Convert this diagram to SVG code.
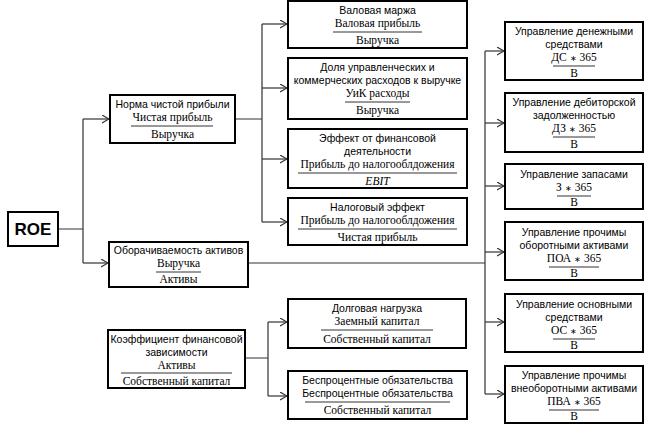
<svg xmlns="http://www.w3.org/2000/svg" width="650" height="425" viewBox="0 0 650 425">
<style>
.box{fill:#fff;stroke:#000;stroke-width:2}
.t{font-family:"Liberation Sans",Arial,sans-serif;font-size:10.5px;text-anchor:middle;fill:#000}
.f{font-family:"Liberation Serif","Times New Roman",serif;font-size:11.5px;text-anchor:middle;fill:#000}
.s{font-size:8px}
.roe{font-family:"Liberation Sans",Arial,sans-serif;font-size:17px;font-weight:bold;text-anchor:middle;fill:#000}
.fl{stroke:#333;stroke-width:1}
.c{stroke:#333;stroke-width:1.2;fill:none}
.a{marker-end:url(#arr)}
</style>
<defs>
<marker id="arr" markerUnits="userSpaceOnUse" markerWidth="8" markerHeight="10" refX="7" refY="4" orient="auto">
<path d="M0,0 L7,4 L0,8" fill="none" stroke="#333" stroke-width="1.2"/>
</marker>
</defs>
<rect width="650" height="425" fill="#fff"/>
<g id="connectors">
<path class="c" d="M58,229 H83 M83,119 V263 M235,119 H262 M262,24 V222 M248,263 H485 M485,51 V394 M245,358 H268 M268,322 V396"/>
<path class="c a" d="M83,119 H109"/>
<path class="c a" d="M83,263 H108"/>
<path class="c a" d="M262,24 H287"/>
<path class="c a" d="M262,88 H287"/>
<path class="c a" d="M262,159 H287"/>
<path class="c a" d="M262,222 H287"/>
<path class="c a" d="M268,322 H287"/>
<path class="c a" d="M268,396 H287"/>
<path class="c a" d="M485,51 H504"/>
<path class="c a" d="M485,123 H504"/>
<path class="c a" d="M485,186 H504"/>
<path class="c a" d="M485,252 H504"/>
<path class="c a" d="M485,322 H504"/>
<path class="c a" d="M485,394 H504"/>
</g>
<g id="roe">
<rect class="box" x="8" y="212" width="50" height="34"/>
<text class="roe" x="33" y="235">ROE</text>
</g>
<g id="norma">
<rect class="box" x="110" y="95" width="125" height="48"/>
<text class="t" x="172.5" y="108">Норма чистой прибыли</text>
<text class="f" x="172.5" y="121">Чистая прибыль</text>
<line class="fl" x1="131" y1="126" x2="213" y2="126"/>
<text class="f" x="172.5" y="138">Выручка</text>
</g>
<g id="oborot">
<rect class="box" x="109" y="242" width="139" height="45"/>
<text class="t" x="178.5" y="254">Оборачиваемость активов</text>
<text class="f" x="178.5" y="267">Выручка</text>
<line class="fl" x1="156" y1="272" x2="201" y2="272"/>
<text class="f" x="178.5" y="283">Активы</text>
</g>
<g id="koef">
<rect class="box" x="108" y="330" width="137" height="58"/>
<text class="t" x="176.5" y="343">Коэффициент финансовой</text>
<text class="t" x="176.5" y="356">зависимости</text>
<text class="f" x="176.5" y="369">Активы</text>
<line class="fl" x1="121" y1="373" x2="232" y2="373"/>
<text class="f" x="176.5" y="385">Собственный капитал</text>
</g>
<g id="valovaya">
<rect class="box" x="288" y="1" width="179" height="47"/>
<text class="t" x="377.5" y="14">Валовая маржа</text>
<text class="f" x="377.5" y="27">Валовая прибыль</text>
<line class="fl" x1="333" y1="32" x2="422" y2="32"/>
<text class="f" x="377.5" y="44">Выручка</text>
</g>
<g id="dolya">
<rect class="box" x="288" y="58" width="179" height="61"/>
<text class="t" x="377.5" y="71">Доля управленческих и</text>
<text class="t" x="377.5" y="84">коммерческих расходов к выручке</text>
<text class="f" x="377.5" y="97">УиК расходы</text>
<line class="fl" x1="345" y1="102" x2="410" y2="102"/>
<text class="f" x="377.5" y="114">Выручка</text>
</g>
<g id="effekt">
<rect class="box" x="288" y="129" width="179" height="59"/>
<text class="t" x="377.5" y="142">Эффект от финансовой</text>
<text class="t" x="377.5" y="155">деятельности</text>
<text class="f" x="377.5" y="168">Прибыль до налогооблдожения</text>
<line class="fl" x1="298" y1="173" x2="457" y2="173"/>
<text class="f" x="377.5" y="185" font-style="italic">EBIT</text>
</g>
<g id="nalog">
<rect class="box" x="288" y="198" width="179" height="47"/>
<text class="t" x="377.5" y="211">Налоговый эффект</text>
<text class="f" x="377.5" y="224">Прибыль до налогооблдожения</text>
<line class="fl" x1="298" y1="229" x2="457" y2="229"/>
<text class="f" x="377.5" y="241">Чистая прибыль</text>
</g>
<g id="dolg">
<rect class="box" x="288" y="299" width="178" height="49"/>
<text class="t" x="377" y="312">Долговая нагрузка</text>
<text class="f" x="377" y="325">Заемный капитал</text>
<line class="fl" x1="321" y1="330" x2="433" y2="330"/>
<text class="f" x="377" y="343">Собственный капитал</text>
</g>
<g id="besproc">
<rect class="box" x="288" y="371" width="179" height="48"/>
<text class="t" x="377.5" y="384">Беспроцентные обязательства</text>
<text class="t" x="377.5" y="397">Беспроцентные обязательства</text>
<line class="fl" x1="305" y1="402" x2="450" y2="402"/>
<text class="f" x="377.5" y="414">Собственный капитал</text>
</g>
<g id="ds">
<rect class="box" x="505" y="22" width="138" height="58"/>
<text class="t" x="574" y="35">Управление денежными</text>
<text class="t" x="574" y="48">средствами</text>
<text class="f" x="574" y="61">ДС <tspan class="s">∗</tspan> 365</text>
<line class="fl" x1="553" y1="66" x2="595" y2="66"/>
<text class="f" x="574" y="77">В</text>
</g>
<g id="dz">
<rect class="box" x="505" y="93" width="138" height="59"/>
<text class="t" x="574" y="106">Управление дебиторской</text>
<text class="t" x="574" y="119">задолженностью</text>
<text class="f" x="574" y="132">ДЗ <tspan class="s">∗</tspan> 365</text>
<line class="fl" x1="553" y1="137" x2="595" y2="137"/>
<text class="f" x="574" y="148">В</text>
</g>
<g id="zapasy">
<rect class="box" x="505" y="164" width="138" height="45"/>
<text class="t" x="574" y="178">Управление запасами</text>
<text class="f" x="574" y="191">З <tspan class="s">∗</tspan> 365</text>
<line class="fl" x1="557" y1="196" x2="591" y2="196"/>
<text class="f" x="574" y="206">В</text>
</g>
<g id="poa">
<rect class="box" x="505" y="222" width="138" height="58"/>
<text class="t" x="574" y="236">Управление прочимы</text>
<text class="t" x="574" y="249">оборотными активами</text>
<text class="f" x="574" y="262">ПОА <tspan class="s">∗</tspan> 365</text>
<line class="fl" x1="549" y1="267" x2="599" y2="267"/>
<text class="f" x="574" y="277">В</text>
</g>
<g id="os">
<rect class="box" x="505" y="294" width="138" height="58"/>
<text class="t" x="574" y="308">Управление основными</text>
<text class="t" x="574" y="321">средствами</text>
<text class="f" x="574" y="334">ОС <tspan class="s">∗</tspan> 365</text>
<line class="fl" x1="553" y1="339" x2="595" y2="339"/>
<text class="f" x="574" y="349">В</text>
</g>
<g id="pva">
<rect class="box" x="505" y="366" width="138" height="57"/>
<text class="t" x="574" y="379">Управление прочимы</text>
<text class="t" x="574" y="392">внеоборотными активами</text>
<text class="f" x="574" y="405">ПВА <tspan class="s">∗</tspan> 365</text>
<line class="fl" x1="549" y1="410" x2="599" y2="410"/>
<text class="f" x="574" y="420">В</text>
</g>
</svg>
